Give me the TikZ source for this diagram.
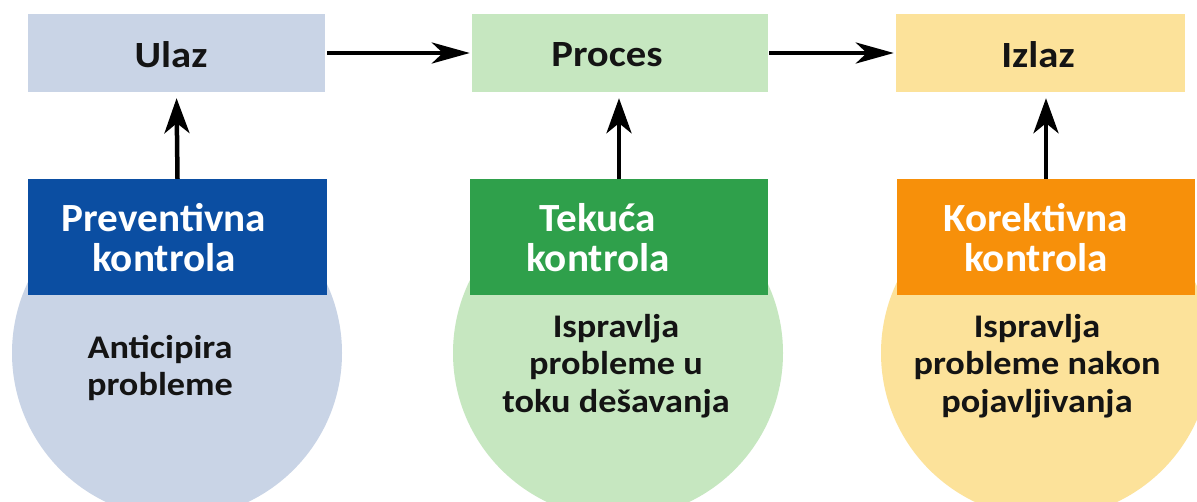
\documentclass[tikz,border=0pt]{standalone}
\usepackage{fontspec}
\setmainfont{Carlito}
\newfontfamily\widefont[FakeStretch=1.1]{Carlito}
\newfontfamily\ctrlfont[FakeStretch=1.03]{Carlito}
\usetikzlibrary{arrows.meta}
\definecolor{topblue}{HTML}{C9D4E6}
\definecolor{topgreen}{HTML}{C6E7C0}
\definecolor{topyellow}{HTML}{FCE29A}
\definecolor{darkblue}{HTML}{0B4EA2}
\definecolor{darkgreen}{HTML}{2FA04B}
\definecolor{darkorange}{HTML}{F7900A}
\definecolor{txt}{HTML}{141414}
\begin{document}
\begin{tikzpicture}[x=1pt,y=-1pt,
  topbox/.style={minimum height=78pt,inner sep=0pt},
  toptext/.style={text=txt,font=\widefont\bfseries\fontsize{37}{40}\selectfont,inner sep=0pt},
  ctrlbox/.style={minimum height=116pt,inner sep=0pt},
  ctrltext/.style={align=center,text=white,font=\ctrlfont\bfseries\fontsize{40}{40}\selectfont,inner sep=0pt},
  blob/.style={circle,minimum size=330pt,inner sep=0pt},
  desc/.style={align=center,text=txt,font=\widefont\bfseries\fontsize{33}{37.5}\selectfont,inner sep=0pt},
  harr/.style={line width=4.5pt,-{Stealth[length=38pt,width=21pt,inset=11pt]}},
  varr/.style={line width=4.5pt,-{Stealth[length=35pt,width=25pt,inset=10pt]}}
]
\useasboundingbox (0,0) rectangle (1197,501);
\clip (0,0) rectangle (1197,501);
\fill[white] (0,0) rectangle (1197,501);
% top boxes
\node[topbox,fill=topblue,minimum width=297pt] (ulaz) at (176.5,53) {};
\node[topbox,fill=topgreen,minimum width=296pt] (proces) at (620,53) {};
\node[topbox,fill=topyellow,minimum width=289pt] (izlaz) at (1040.5,53) {};
\node[toptext] (ulazt) at (171,55) {Ulaz};
\node[toptext] (procest) at (607,55) {Proces};
\node[toptext] (izlazt) at (1038,55) {Izlaz};
% circles
\node[blob,fill=topblue] (c1) at (177,353) {};
\node[blob,fill=topgreen] (c2) at (618,353) {};
\node[blob,fill=topyellow] (c3) at (1046,353) {};
% control boxes
\node[ctrlbox,fill=darkblue,minimum width=299pt] (prev) at (177.5,237) {};
\node[ctrlbox,fill=darkgreen,minimum width=298pt] (tek) at (619,237) {};
\node[ctrlbox,fill=darkorange,minimum width=298pt] (kor) at (1046,237) {};
\node[ctrltext] (prevt) at (164,238) {Preventivna\\kontrola};
\node[ctrltext] (tekt) at (598,238) {Tekuća\\kontrola};
\node[ctrltext] (kort) at (1036,238) {Korektivna\\kontrola};
% descriptions
\node[desc] (d1) at (160,368) {Anticipira\\probleme};
\node[desc] (d2) at (616,366) {Ispravlja\\probleme u\\toku dešavanja};
\node[desc] (d3) at (1037,366) {Ispravlja\\probleme nakon\\pojavljivanja};
% arrows
\draw[harr,shorten >=2pt] (ulaz.east) ++(2,0) -- (proces.west);
\draw[harr,shorten >=2pt] (proces.east) ++(1,0) -- (izlaz.west);
\draw[varr,shorten >=6pt] (prev.north) -- (ulaz.south);
\draw[varr,shorten >=6pt] (tek.north) -- ([xshift=-1pt]proces.south);
\draw[varr,shorten >=6pt] (kor.north) -- ([xshift=5.5pt]izlaz.south);
\end{tikzpicture}
\end{document}
